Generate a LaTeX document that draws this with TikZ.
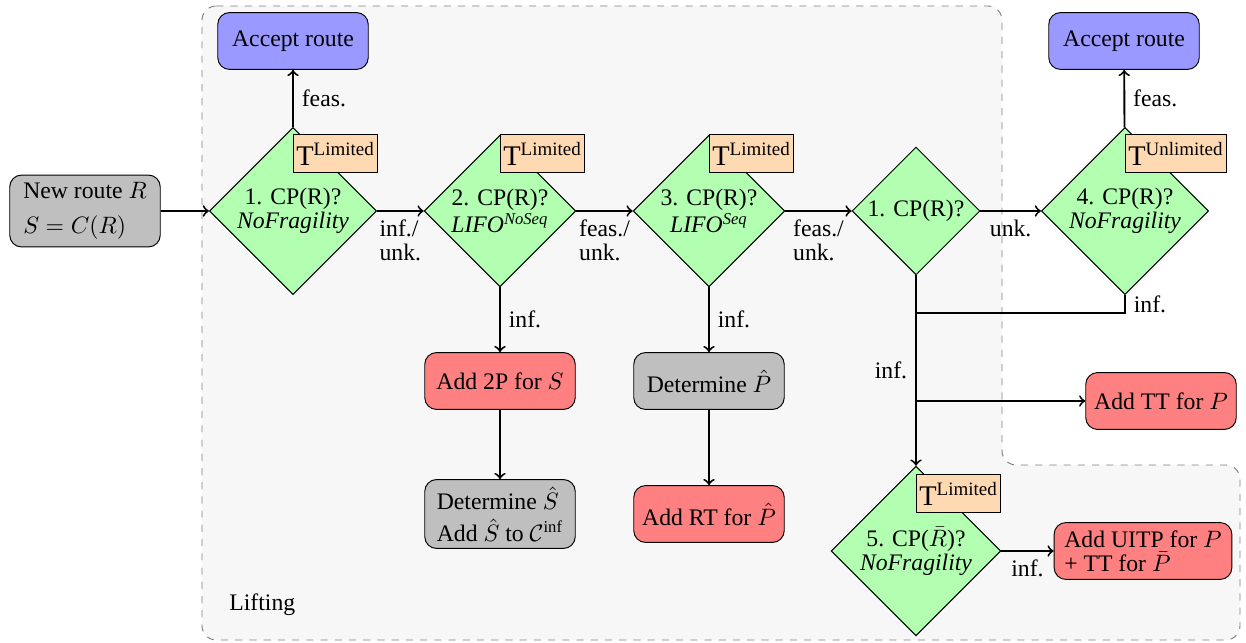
\documentclass[tikz,border=0pt]{standalone}
\usepackage[no-math]{fontspec}
\setmainfont{Liberation Serif}
\usepackage{amsmath}
\usetikzlibrary{shapes.geometric}

\tikzset{
  every node/.style={font=\fontsize{10}{10}\selectfont},
  box/.style={draw, rounded corners=5pt, minimum width=63.5pt, minimum height=24pt, inner sep=3pt},
  greybox/.style={box, fill=black!25},
  redbox/.style={box, fill=red!50},
  bluebox/.style={box, fill=blue!40},
  test/.style={draw, diamond, aspect=1, fill=green!30, inner sep=1pt, align=center},
  tag/.style={draw, fill=orange!30, inner xsep=1.2pt, inner ysep=3pt, anchor=south west, font=\large},
  arr/.style={thick, ->},
  link/.style={thick},
  region/.style={draw=black!50, dashed, fill=black!3, rounded corners=6pt},
}

\begin{document}
\begin{tikzpicture}[x=0.4219pt, y=-0.4219pt]
\useasboundingbox (0,0) rectangle (1246,643);

% lifting area
\draw[region] (202,6) -- (1002,6) -- (1002,465) -- (1240,465) -- (1240,640) -- (202,640) -- cycle;
\node[anchor=west] (lift) at (221,605) {Lifting};

% decision diamonds
\node[test, minimum size=70.5pt] (d1) at (293,211) {1. CP(R)?\\ \textit{NoFragility}};
\node[test, minimum size=64pt] (d2) at (500,211) {2. CP(R)?\\ \textit{LIFO}\textsuperscript{\textit{NoSeq}}};
\node[test, minimum size=64pt] (d3) at (709,211) {3. CP(R)?\\ \textit{LIFO\textsuperscript{Seq}}};
\node[test, minimum size=53.6pt] (d4) at (916,211) {1. CP(R)?};
\node[test, minimum size=70.5pt] (d5) at (1125,211) {4. CP(R)?\\ \textit{NoFragility}};
\node[test, minimum size=70.5pt] (d6) at (916,551) {5. CP($\bar{R}$)?\\ \textit{NoFragility}};

% time limit tags
\node[tag] (t1) at ([yshift=16pt]d1.center) {T\textsuperscript{Limited}};
\node[tag] (t2) at ([yshift=16pt]d2.center) {T\textsuperscript{Limited}};
\node[tag] (t3) at ([yshift=16pt]d3.center) {T\textsuperscript{Limited}};
\node[tag] (t5) at ([yshift=16pt]d5.center) {T\textsuperscript{Unlimited}};
\node[tag] (t6) at ([yshift=16pt]d6.center) {T\textsuperscript{Limited}};

% boxes
\node[greybox, align=left] (new) at (85,211) {New route $R$\\[5pt] $S=C(R)$};
\node[bluebox] (acc1) at (293,41) {Accept route};
\node[bluebox] (acc2) at (1124,41) {Accept route};
\node[redbox] (twop) at (500,381) {Add 2P for $S$};
\node[greybox, align=left] (dets) at (500,514) {Determine $\hat{S}$\\[3.5pt] Add $\hat{S}$ to $\mathcal{C}^{\text{inf}}$};
\node[greybox] (detp) at (709,381) {Determine $\hat{P}$};
\node[redbox] (rt) at (709,514) {Add RT for $\hat{P}$};
\node[redbox] (tt) at (1161,401) {Add TT for $P$};
\node[redbox, align=left, minimum width=75pt] (uitp) at (1143,551) {Add UITP for $P$\\ + TT for $\bar{P}$};

% connectors
\coordinate (join) at (916,313);
\coordinate (fork) at (916,401);

\draw[arr] (new) -- (d1);
\draw[arr] (d1) -- node[right] {feas.} (acc1);
\draw[arr] (d1) -- node[below, align=left] {inf./\\unk.} (d2);
\draw[arr] (d2) -- node[below, align=left] {feas./\\unk.} (d3);
\draw[arr] (d3) -- node[below, align=left] {feas./\\unk.} (d4);
\draw[arr] (d4) -- node[below] {unk.} (d5);
\draw[arr] (d5) -- node[right] {feas.} (acc2);
\draw[arr] (d2) -- node[right] {inf.} (twop);
\draw[arr] (twop) -- (dets);
\draw[arr] (d3) -- node[right] {inf.} (detp);
\draw[arr] (detp) -- (rt);
\draw[arr] (d4) -- node[left] {inf.} (d6);
\draw[link] (d5.south) -- node[right] {inf.} (d5.south |- join) -- (join);
\draw[arr] (fork) -- (tt);
\draw[arr] (d6) -- node[below] {inf.} (uitp);
\end{tikzpicture}
\end{document}
